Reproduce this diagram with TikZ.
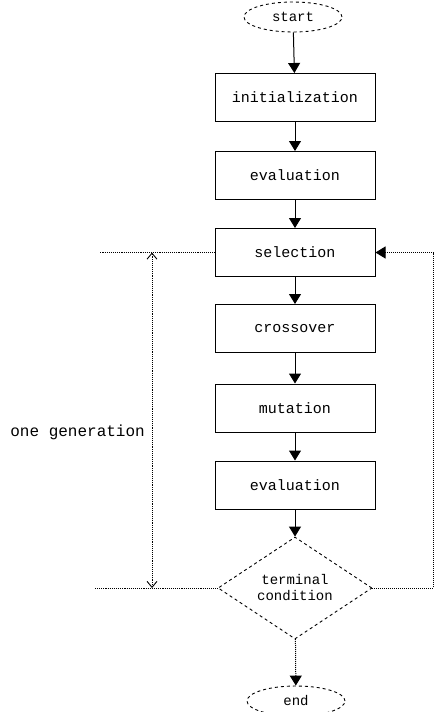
\documentclass[tikz,border=0pt]{standalone}
\usepackage{fontspec}
\setmainfont{Liberation Mono}
\usepackage{tikz}
\usetikzlibrary{arrows.meta,positioning,shapes.geometric}
\tikzset{
  gaBox/.style={draw, line width=1pt, minimum width=160pt, minimum height=48pt, inner sep=2pt, font=\fontsize{15}{17}\selectfont},
  gaTerminal/.style={draw, ellipse, dashed, line width=0.9pt, minimum width=98pt, minimum height=30pt, inner sep=1pt, font=\fontsize{14}{16}\selectfont},
  gaDecision/.style={draw, diamond, dashed, line width=0.9pt, minimum width=154pt, minimum height=73pt, inner sep=0pt, align=center, font=\fontsize{14}{16}\selectfont},
  gaArrow/.style={-{Triangle[width=12pt,length=10pt]}, line width=1pt},
  gaDottedArrow/.style={-{Triangle[width=12pt,length=10pt]}, line width=1pt, densely dotted},
  gaGuide/.style={densely dotted, line width=0.9pt},
  gaSpan/.style={{Straight Barb[length=6pt,width=10pt]}-{Straight Barb[length=6pt,width=10pt]}, densely dotted, line width=0.9pt},
  gaLabel/.style={font=\fontsize{16}{18}\selectfont, inner sep=1pt}
}
\begin{document}
\begin{tikzpicture}[x=1pt, y=-1pt]
      \useasboundingbox (0,0) rectangle (436,712);
      \node[gaTerminal] (start) at (293,17) {start};
      \node[gaBox] (init) at (295,97.5) {initialization};
      \node[gaBox] (eval) at (295,175.5) {evaluation};
      \node[gaBox] (sel) at (295,252.5) {selection};
      \node[gaBox] (cross) at (295,328.5) {crossover};
      \node[gaBox] (mut) at (295,408) {mutation};
      \node[gaBox] (evalb) at (295,485) {evaluation};
      \node[gaDecision] (cond) at (295,588) {terminal\\condition};
      \node[gaTerminal] (end) at (296,701) {end};
      \coordinate (genTop) at (100,252.5);
      \coordinate (genBot) at (95,588);
      \coordinate (spanTop) at (152,252.5);
      \coordinate (spanBot) at (152,588);
      \node[gaLabel, anchor=east] (gen) at (146,432) {one generation};
      \draw[gaArrow] (start) -- (init);
      \draw[gaArrow] (init) -- (eval);
      \draw[gaArrow] (eval) -- (sel);
      \draw[gaArrow] (sel) -- (cross);
      \draw[gaArrow] (cross) -- (mut);
      \draw[gaArrow] (mut) -- (evalb);
      \draw[gaArrow] (evalb) -- (cond);
      \draw[gaDottedArrow] (cond) -- (end);
      \draw[gaDottedArrow] (cond.east) -| ([xshift=58pt]sel.east) -- (sel.east);
      \draw[gaGuide] (sel.west) -- (genTop);
      \draw[gaGuide] (cond.west) -- (genBot);
      \draw[gaSpan] (spanTop) -- (spanBot);
    \end{tikzpicture}
\end{document}
